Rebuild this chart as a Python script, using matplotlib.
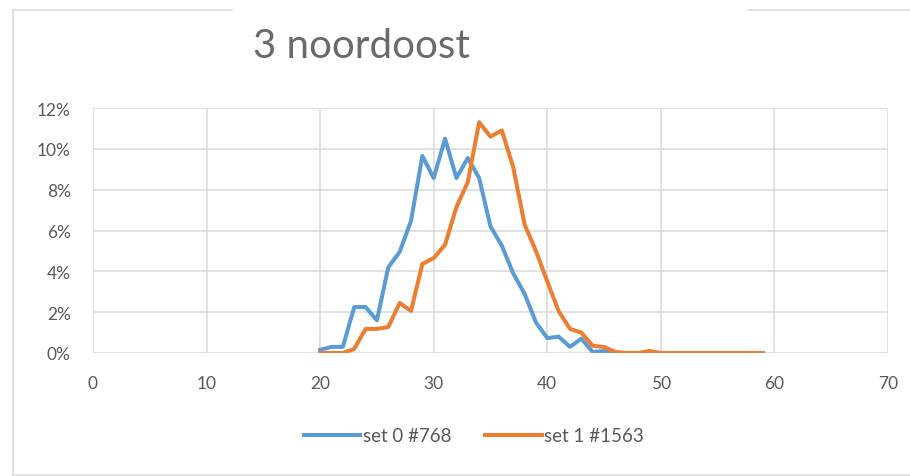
import numpy as np
import matplotlib.pyplot as plt
from matplotlib.lines import Line2D
from matplotlib.ticker import PercentFormatter

# waarden in procent, x = 20 .. 59
x_vals = list(range(20, 60))
set0 = [0.16, 0.3, 0.3, 2.25, 2.25, 1.6, 4.2, 4.95, 6.47, 9.65,
        8.57, 10.5, 8.57, 9.55, 8.57, 6.2, 5.25, 3.9, 2.9, 1.5,
        0.73, 0.8, 0.3, 0.7, 0.05, 0.1, 0, 0, 0, 0,
        0, 0, 0, 0, 0, 0, 0, 0, 0, 0]
set1 = [0, 0, 0, 0.2, 1.18, 1.18, 1.27, 2.45, 2.06, 4.36,
        4.65, 5.3, 7.15, 8.37, 11.3, 10.6, 10.9, 9.1, 6.3, 5.0,
        3.5, 2.05, 1.18, 1.0, 0.35, 0.3, 0.05, 0, 0, 0.1,
        0, 0, 0, 0, 0, 0, 0, 0, 0, 0]
labels = ["set 0 #768", "set 1 #1563"]
title = "3 noordoost"

W, H = 910, 477
plt.rcParams['font.family'] = ['Lato', 'DejaVu Sans']
fig = plt.figure(figsize=(W / 100, H / 100), dpi=100)

ax = fig.add_axes([93 / W, 1 - 354 / H, (888 - 93) / W, (354 - 109) / H])
ax.plot(x_vals, set0, color='#5B9BD5', lw=2.9, label=labels[0], solid_joinstyle='round')
ax.plot(x_vals, set1, color='#ED7D31', lw=2.9, label=labels[1], solid_joinstyle='round')

ax.set_xlim(0, 70)
ax.set_ylim(0, 12)
ax.set_xticks(np.arange(0, 71, 10))
ax.set_yticks(np.arange(0, 13, 2))
ax.yaxis.set_major_formatter(PercentFormatter(xmax=100, decimals=0))
ax.grid(True, color='#d9d9d9', lw=1.1)
ax.set_axisbelow(True)
for s in ax.spines.values():
    s.set_visible(False)
ax.tick_params(length=0, labelsize=12.5, labelcolor='#595959')
ax.tick_params(axis='x', pad=16)
ax.tick_params(axis='y', pad=16)

fig.text(361 / W, 1 - 47 / H, title, ha='center', va='center', fontsize=29,
         color='#6a6a6a', fontweight='normal')

# kader rond de grafiek
def seg(x0, y0, x1, y1):
    fig.add_artist(Line2D([x0 / W, x1 / W], [1 - y0 / H, 1 - y1 / H],
                          color='#d9d9d9', lw=1.1, transform=fig.transFigure))

seg(13, 11, 13, 476)
seg(13, 476, 910, 476)
seg(13, 11, 232, 11)
seg(748, 11, 910, 11)

fig.legend(loc='center', bbox_to_anchor=(474 / W, 1 - 437 / H), ncol=2,
           frameon=False, fontsize=13.5, handlelength=3.0, handletextpad=0.15,
           columnspacing=1.8, labelcolor='#595959')

fig.savefig('out.png', dpi=100)
